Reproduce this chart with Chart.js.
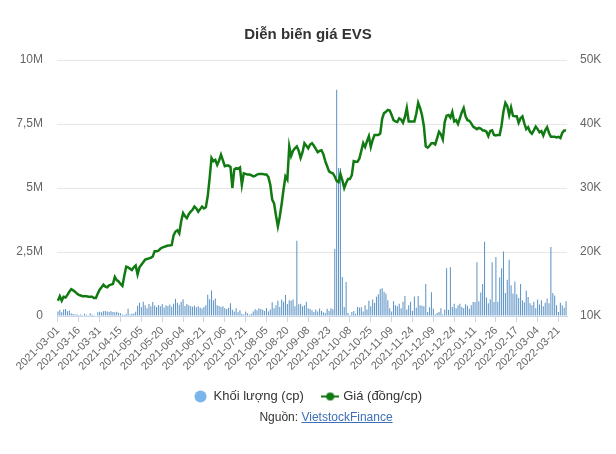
<!DOCTYPE html>
<html>
<head>
<meta charset="utf-8">
<title>Diễn biến giá EVS</title>
<script src="https://cdn.jsdelivr.net/npm/chart.js@4.4.1/dist/chart.umd.min.js"></script>
<style>
html, body { margin: 0; padding: 0; background: #fff; }
#wrap { position: relative; width: 616px; height: 454px; }
#source { position: absolute; top: 410px; left: 0; width: 616px; box-sizing: border-box; padding-left: 36px;
  text-align: center; font: 12px "Liberation Sans", Arial, sans-serif; color: #333; }
#source a { color: #3d6fb6; text-decoration: underline; }
</style>
</head>
<body>
<div id="wrap">
  <canvas id="canvas" width="616" height="454"></canvas>
  <div id="source">Nguồn: <a href="#">VietstockFinance</a></div>
</div>
<script>
// ngay giao dich
let dates = [
"2021-03-01","2021-03-02","2021-03-03","2021-03-04","2021-03-05","2021-03-08","2021-03-09","2021-03-10","2021-03-11","2021-03-12",
"2021-03-15","2021-03-16","2021-03-17","2021-03-18","2021-03-19","2021-03-22","2021-03-23","2021-03-24","2021-03-25","2021-03-26",
"2021-03-29","2021-03-30","2021-03-31","2021-04-01","2021-04-02","2021-04-05","2021-04-06","2021-04-07","2021-04-08","2021-04-09",
"2021-04-12","2021-04-13","2021-04-14","2021-04-15","2021-04-16","2021-04-19","2021-04-20","2021-04-22","2021-04-23","2021-04-26",
"2021-04-27","2021-04-28","2021-04-29","2021-05-04","2021-05-05","2021-05-06","2021-05-07","2021-05-10","2021-05-11","2021-05-12",
"2021-05-13","2021-05-14","2021-05-17","2021-05-18","2021-05-19","2021-05-20","2021-05-21","2021-05-24","2021-05-25","2021-05-26",
"2021-05-27","2021-05-28","2021-05-31","2021-06-01","2021-06-02","2021-06-03","2021-06-04","2021-06-07","2021-06-08","2021-06-09",
"2021-06-10","2021-06-11","2021-06-14","2021-06-15","2021-06-16","2021-06-17","2021-06-18","2021-06-21","2021-06-22","2021-06-23",
"2021-06-24","2021-06-25","2021-06-28","2021-06-29","2021-06-30","2021-07-01","2021-07-02","2021-07-05","2021-07-06","2021-07-07",
"2021-07-08","2021-07-09","2021-07-12","2021-07-13","2021-07-14","2021-07-15","2021-07-16","2021-07-19","2021-07-20","2021-07-21",
"2021-07-22","2021-07-23","2021-07-26","2021-07-27","2021-07-28","2021-07-29","2021-07-30","2021-08-02","2021-08-03","2021-08-04",
"2021-08-05","2021-08-06","2021-08-09","2021-08-10","2021-08-11","2021-08-12","2021-08-13","2021-08-16","2021-08-17","2021-08-18",
"2021-08-19","2021-08-20","2021-08-23","2021-08-24","2021-08-25","2021-08-26","2021-08-27","2021-08-30","2021-08-31","2021-09-01",
"2021-09-06","2021-09-07","2021-09-08","2021-09-09","2021-09-10","2021-09-13","2021-09-14","2021-09-15","2021-09-16","2021-09-17",
"2021-09-20","2021-09-21","2021-09-22","2021-09-23","2021-09-24","2021-09-27","2021-09-28","2021-09-29","2021-09-30","2021-10-01",
"2021-10-04","2021-10-05","2021-10-06","2021-10-07","2021-10-08","2021-10-11","2021-10-12","2021-10-13","2021-10-14","2021-10-15",
"2021-10-18","2021-10-19","2021-10-20","2021-10-21","2021-10-22","2021-10-25","2021-10-26","2021-10-27","2021-10-28","2021-10-29",
"2021-11-01","2021-11-02","2021-11-03","2021-11-04","2021-11-05","2021-11-08","2021-11-09","2021-11-10","2021-11-11","2021-11-12",
"2021-11-15","2021-11-16","2021-11-17","2021-11-18","2021-11-19","2021-11-22","2021-11-23","2021-11-24","2021-11-25","2021-11-26",
"2021-11-29","2021-11-30","2021-12-01","2021-12-02","2021-12-03","2021-12-06","2021-12-07","2021-12-08","2021-12-09","2021-12-10",
"2021-12-13","2021-12-14","2021-12-15","2021-12-16","2021-12-17","2021-12-20","2021-12-21","2021-12-22","2021-12-23","2021-12-24",
"2021-12-27","2021-12-28","2021-12-29","2021-12-30","2021-12-31","2022-01-04","2022-01-05","2022-01-06","2022-01-07","2022-01-10",
"2022-01-11","2022-01-12","2022-01-13","2022-01-14","2022-01-17","2022-01-18","2022-01-19","2022-01-20","2022-01-21","2022-01-24",
"2022-01-25","2022-01-26","2022-01-27","2022-01-28","2022-02-07","2022-02-08","2022-02-09","2022-02-10","2022-02-11","2022-02-14",
"2022-02-15","2022-02-16","2022-02-17","2022-02-18","2022-02-21","2022-02-22","2022-02-23","2022-02-24","2022-02-25","2022-02-28",
"2022-03-01","2022-03-02","2022-03-03","2022-03-04","2022-03-07","2022-03-08","2022-03-09","2022-03-10","2022-03-11","2022-03-14",
"2022-03-15","2022-03-16","2022-03-17","2022-03-18","2022-03-21","2022-03-22","2022-03-23","2022-03-24","2022-03-25"
];

// gia (dong/cp)
let price = [
12400, 13100, 12400, 13000, 12900, 13300, 13800, 14200, 14000, 13800,
13500, 13300, 13200, 13100, 13100, 13100, 13000, 13000, 13000, 12800,
12800, 13500, 14100, 14500, 14900, 14600, 14500, 14800, 14900, 15000,
16100, 15600, 15400, 15000, 14700, 16300, 17700, 17600, 17400, 17200,
17600, 17900, 16500, 17600, 18000, 18400, 18800, 18900, 19000, 19100,
19300, 20100, 20100, 20200, 20500, 20700, 20800, 20900, 21000, 21000,
21100, 22600, 23200, 23400, 22900, 24800, 26100, 25600, 25300, 25900,
26300, 26600, 27100, 26800, 26300, 26700, 27100, 26800, 27000, 28700,
31500, 34700, 34200, 34400, 33600, 34300, 35200, 34300, 33400, 33500,
33500, 33300, 30000, 32900, 33100, 33000, 33200, 30500, 32300, 32200,
32100, 32100, 32000, 31800, 31900, 32100, 32200, 32200, 32200, 32100,
32100, 31700, 30500, 28200, 27600, 25700, 24000, 25500, 27500, 29800,
31800, 31300, 36500, 35000, 35800, 36200, 36500, 35800, 34700, 35600,
37000, 36600, 36200, 36800, 37000, 36600, 36100, 35600, 35800, 35900,
35300, 34200, 33400, 32600, 32400, 32300, 31800, 31100, 30900, 32200,
31200, 30000, 30800, 31400, 31400, 32000, 34200, 34100, 34100, 34600,
35800, 37000, 36400, 37300, 38100, 36400, 37500, 38300, 38300, 38300,
38500, 40800, 41700, 41900, 42200, 42100, 41400, 40600, 40400, 40300,
40900, 40700, 40200, 41100, 42500, 40400, 40400, 40400, 40400, 41600,
43300, 42500, 41400, 39700, 36500, 36300, 36600, 37000, 37000, 36800,
37800, 38800, 38400, 37600, 40300, 41300, 41400, 41000, 41900, 40400,
40600, 40000, 40900, 41800, 42500, 41200, 40600, 40500, 40100, 39600,
39400, 39200, 39400, 39300, 39000, 39000, 38800, 38100, 38900, 39000,
38300, 38200, 38300, 38300, 39800, 42000, 43300, 42800, 41400, 42600,
41300, 41200, 41200, 40200, 40900, 41200, 40100, 39200, 39500, 38800,
38500, 39000, 39600, 39200, 38700, 38900, 38200, 39000, 39500, 38600,
38000, 38000, 38000, 37900, 38000, 37800, 38600, 39000, 39000
];

// khoi luong (cp)
let volume = [
180000, 230000, 150000, 250000, 270000, 190000, 210000, 110000, 80000, 60000,
70000, 40000, 60000, 30000, 90000, 50000, 30000, 110000, 60000, 30000,
20000, 150000, 170000, 150000, 190000, 200000, 180000, 170000, 190000, 160000,
150000, 170000, 130000, 110000, 60000, 40000, 80000, 280000, 60000, 90000,
100000, 170000, 400000, 520000, 350000, 560000, 420000, 300000, 470000, 380000,
550000, 410000, 350000, 430000, 380000, 470000, 330000, 420000, 390000, 450000,
360000, 480000, 670000, 520000, 440000, 560000, 650000, 390000, 470000, 420000,
380000, 360000, 410000, 340000, 380000, 320000, 290000, 350000, 420000, 830000,
650000, 1000000, 620000, 680000, 420000, 390000, 350000, 380000, 310000, 270000,
320000, 500000, 240000, 180000, 300000, 150000, 220000, 90000, 60000, 180000,
110000, 50000, 90000, 180000, 260000, 220000, 300000, 270000, 240000, 200000,
310000, 180000, 250000, 540000, 300000, 420000, 600000, 350000, 640000, 560000,
820000, 470000, 620000, 600000, 640000, 380000, 2940000, 460000, 480000, 380000,
420000, 560000, 300000, 270000, 220000, 160000, 250000, 180000, 290000, 200000,
150000, 120000, 280000, 200000, 300000, 260000, 2620000, 8840000, 5780000, 5780000,
1520000, 350000, 1330000, 120000, 40000, 160000, 200000, 90000, 350000, 330000,
340000, 180000, 420000, 250000, 600000, 380000, 640000, 520000, 750000, 850000,
1050000, 1080000, 950000, 880000, 620000, 300000, 180000, 580000, 420000, 380000,
480000, 300000, 560000, 780000, 250000, 420000, 560000, 200000, 760000, 320000,
780000, 420000, 400000, 380000, 1250000, 160000, 340000, 930000, 280000, 60000,
120000, 160000, 300000, 60000, 250000, 1870000, 240000, 1900000, 350000, 480000,
300000, 420000, 480000, 350000, 300000, 460000, 400000, 280000, 420000, 550000,
550000, 2100000, 580000, 920000, 1250000, 2900000, 720000, 500000, 650000, 2100000,
550000, 2300000, 560000, 1500000, 1870000, 2520000, 900000, 1420000, 2200000, 1200000,
880000, 1350000, 850000, 700000, 1250000, 620000, 540000, 1000000, 740000, 500000,
420000, 560000, 300000, 640000, 450000, 620000, 380000, 520000, 680000, 500000,
2700000, 900000, 800000, 420000, 160000, 520000, 420000, 320000, 580000
];

let LABEL_STEP = 11;
let barColor = "#5f95c6";
let legendBarColor = "#7cb5ec";
let lineColor = "#127a12";

Chart.defaults.font.family = "'Liberation Sans', Arial, sans-serif";

function make_line_icon() {
    let c = document.createElement("canvas");
    c.width = 18;
    c.height = 12;
    let g = c.getContext("2d");
    g.strokeStyle = lineColor;
    g.lineWidth = 2;
    g.beginPath();
    g.moveTo(0, 6);
    g.lineTo(18, 6);
    g.stroke();
    g.fillStyle = lineColor;
    g.beginPath();
    g.arc(9, 6, 4, 0, Math.PI * 2);
    g.fill();
    return c;
}

function m_label(v) {
    if (v == 0) return "0";
    return (v / 1000000).toString().replace(".", ",") + "M";
}

let lineIcon = make_line_icon();
let ctx = document.getElementById("canvas").getContext("2d");

let chart = new Chart(ctx, {
    data: {
        labels: dates,
        datasets: [{
            type: "bar",
            label: "Khối lượng (cp)",
            data: volume,
            yAxisID: "y",
            backgroundColor: barColor,
            barPercentage: 0.55,
            categoryPercentage: 1,
            order: 1
        }, {
            type: "line",
            label: "Giá (đồng/cp)",
            data: price,
            yAxisID: "y1",
            borderColor: lineColor,
            backgroundColor: lineColor,
            borderWidth: 2.5,
            pointRadius: 0,
            tension: 0,
            order: 0
        }]
    },
    options: {
        responsive: false,
        animation: false,
        devicePixelRatio: 1,
        layout: { padding: { left: 0, right: 0, top: 0, bottom: 41 } },
        plugins: {
            title: {
                display: true,
                text: "Diễn biến giá EVS",
                color: "#333",
                font: { size: 15, weight: "bold" },
                padding: { top: 26, bottom: 16 }
            },
            legend: {
                position: "bottom",
                labels: {
                    color: "#333",
                    font: { size: 13 },
                    usePointStyle: true,
                    boxWidth: 14,
                    boxHeight: 8.5,
                    padding: 20,
                    generateLabels: function(chart) {
                        let items = Chart.defaults.plugins.legend.labels.generateLabels(chart);
                        items.sort(function(a, b) { return a.datasetIndex - b.datasetIndex; });
                        items.forEach(function(it) {
                            if (it.datasetIndex == 0) {
                                it.pointStyle = "circle";
                                it.fillStyle = legendBarColor;
                                it.strokeStyle = legendBarColor;
                                it.lineWidth = 0;
                            } else {
                                it.pointStyle = lineIcon;
                            }
                        });
                        return items;
                    }
                }
            },
            tooltip: { enabled: false }
        },
        scales: {
            x: {
                offset: true,
                grid: {
                    display: true,
                    drawOnChartArea: false,
                    offset: false,
                    tickLength: 6,
                    tickColor: function(c) { return c.index % LABEL_STEP == 0 ? "#ccd6eb" : "rgba(0,0,0,0)"; }
                },
                border: { display: true, color: "#ccd6eb" },
                ticks: {
                    autoSkip: false,
                    minRotation: 45,
                    maxRotation: 45,
                    color: "#666",
                    font: { size: 11 },
                    padding: 2,
                    callback: function(val, idx) {
                        return idx % LABEL_STEP == 0 ? this.getLabelForValue(val) : "";
                    }
                },
                afterFit: function(scale) { scale.height = 54; }
            },
            y: {
                position: "left",
                min: 0,
                max: 10000000,
                grid: { color: "#e6e6e6", drawTicks: false, tickLength: 0 },
                border: { display: false },
                ticks: {
                    stepSize: 2500000,
                    color: "#666",
                    font: { size: 12 },
                    padding: 14,
                    callback: m_label
                },
                afterFit: function(scale) { scale.width = 57; }
            },
            y1: {
                position: "right",
                min: 10000,
                max: 50000,
                grid: { drawOnChartArea: false, drawTicks: false, tickLength: 0 },
                border: { display: false },
                ticks: {
                    stepSize: 10000,
                    color: "#666",
                    font: { size: 12 },
                    padding: 13,
                    callback: function(v) { return (v / 1000) + "K"; }
                },
                afterFit: function(scale) { scale.width = 49; }
            }
        }
    }
});
</script>
</body>
</html>
